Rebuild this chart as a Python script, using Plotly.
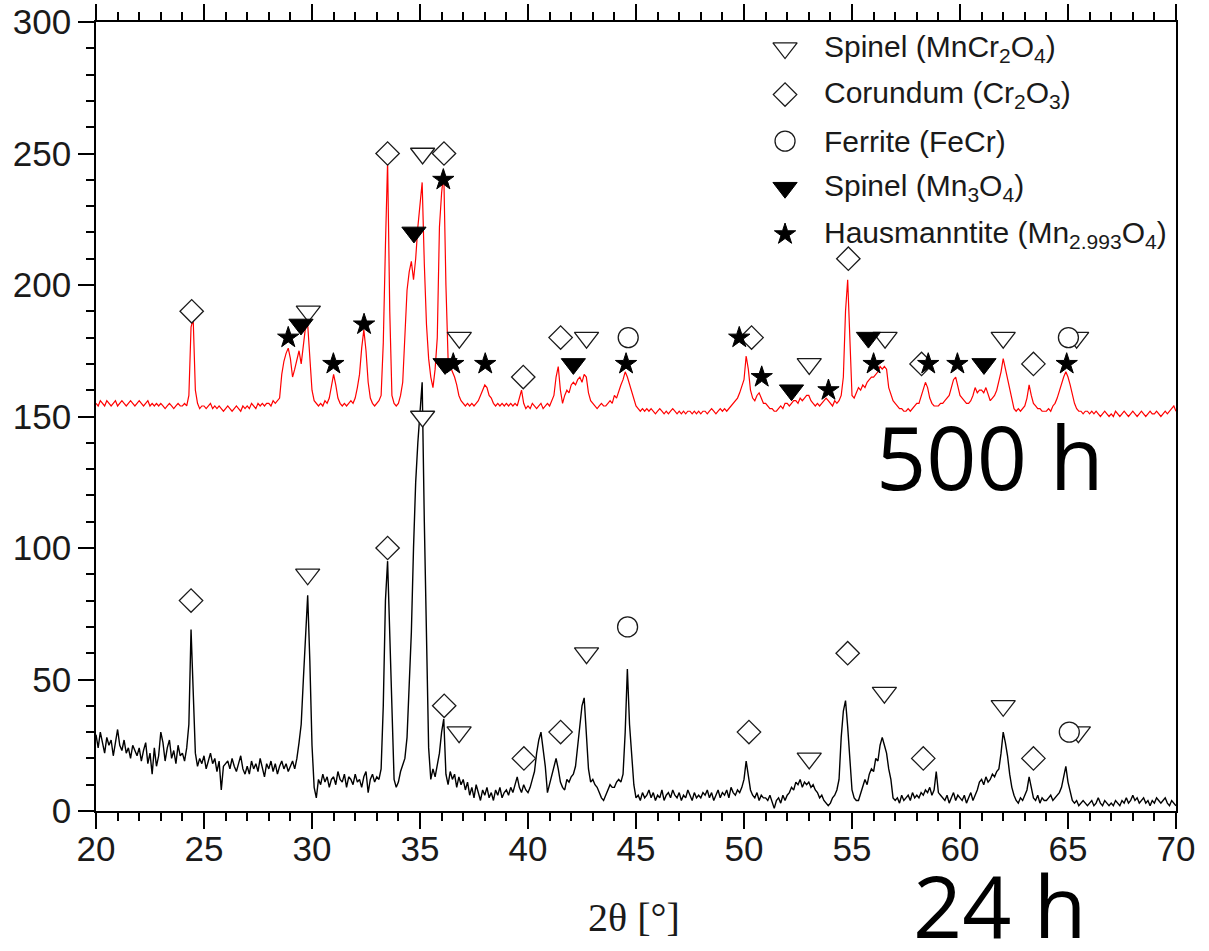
import numpy as np
import plotly.graph_objects as go

# ---- XRD scans: 2-theta from 20 to 70 deg, 0.1 deg step ----
scan_start = 20.0
scan_step = 0.1

# 24 h oxidation (counts, one row per degree)
counts_24h = [
    29, 24, 30, 26, 22, 28, 25, 27, 21, 26,
    31, 25, 23, 27, 22, 24, 20, 25, 23, 21,
    24, 19, 23, 26, 18, 22, 14, 24, 17, 21,
    30, 26, 19, 24, 27, 20, 23, 18, 25, 21,
    22, 19, 24, 33, 69, 48, 22, 17, 20, 18,
    21, 16, 19, 22, 18, 20, 15, 19, 8, 17,
    18, 19, 16, 20, 17, 15, 18, 21, 16, 14,
    17, 14, 19, 16, 18, 15, 20, 17, 13, 18,
    16, 19, 15, 18, 14, 17, 19, 16, 18, 15,
    17, 19, 16, 20, 26, 33, 50, 66, 82, 57,
    25, 9, 5, 12, 10, 14, 11, 13, 9, 12,
    13, 10, 15, 12, 11, 14, 9, 13, 12, 10,
    14, 11, 12, 9, 13, 15, 7, 12, 14, 11,
    13, 12, 16, 40, 80, 95, 68, 35, 12, 9,
    11, 15, 18, 20, 28, 48, 68, 100, 125, 140,
    152, 163, 110, 62, 24, 12, 16, 13, 18, 22,
    30, 35, 14, 10, 15, 12, 14, 9, 13, 10,
    12, 8, 11, 6, 9, 5, 10, 7, 4, 8,
    6, 9, 5, 7, 4, 8, 6, 9, 5, 7,
    8, 6, 9, 7, 10, 13, 9, 7, 10, 8,
    7, 9, 12, 15, 22, 27, 30, 24, 17, 7,
    10, 13, 17, 20, 16, 11, 9, 8, 12, 11,
    13, 14, 17, 24, 33, 40, 43, 30, 16, 11,
    12, 10, 9, 7, 5, 4, 6, 8, 10, 9,
    9, 11, 12, 11, 14, 30, 54, 33, 22, 10,
    5, 6, 4, 7, 5, 6, 8, 5, 7, 4,
    6, 5, 8, 4, 6, 7, 5, 8, 6, 5,
    7, 4, 6, 5, 8, 6, 4, 7, 5, 6,
    5, 7, 6, 8, 5, 7, 4, 6, 8, 5,
    7, 6, 8, 5, 9, 7, 6, 8, 7, 9,
    12, 19, 14, 8, 6, 5, 7, 4, 6, 5,
    5, 4, 6, 3, 1, 4, 5, 3, 6, 4,
    6, 7, 9, 8, 11, 10, 12, 9, 11, 10,
    11, 9, 10, 8, 7, 5, 6, 4, 3, 2,
    3, 5, 6, 8, 12, 28, 38, 42, 32, 18,
    8, 5, 4, 4, 7, 9, 12, 10, 14, 16,
    15, 20, 19, 25, 28, 25, 22, 16, 12, 5,
    4, 5, 3, 6, 4, 5, 6, 4, 7, 5,
    6, 5, 7, 6, 8, 7, 9, 6, 8, 15,
    7, 6, 5, 4, 6, 3, 5, 7, 4, 6,
    5, 4, 6, 3, 5, 7, 4, 6, 8, 11,
    12, 10, 13, 11, 12, 14, 13, 15, 16, 22,
    30, 26, 21, 14, 9, 6, 4, 3, 5, 4,
    6, 8, 13, 9, 5, 4, 6, 3, 5, 4,
    4, 5, 6, 4, 5, 6, 7, 9, 13, 17,
    11, 7, 4, 3, 4, 2, 3, 4, 3, 2,
    3, 4, 2, 3, 5, 3, 2, 4, 3, 2,
    3, 2, 4, 3, 2, 4, 3, 5, 3, 4,
    6, 4, 5, 3, 4, 5, 3, 4, 2, 4,
    3, 5, 4, 3, 4, 5, 3, 2, 4, 3,
    2,
]

# 500 h oxidation (counts, shifted up for display)
counts_500h = [
    155, 154, 156, 155, 154, 156, 155, 154, 155, 156,
    154, 155, 156, 155, 154, 155, 156, 155, 154, 155,
    156, 155, 154, 155, 156, 154, 155, 154, 155, 154,
    155, 154, 153, 154, 155, 154, 153, 154, 155, 154,
    154, 155, 154, 158, 184, 187, 160, 155, 153, 154,
    154, 153, 154, 155, 153, 154, 153, 154, 153, 152,
    153, 154, 153, 152, 153, 154, 153, 152, 154, 153,
    154, 153, 155, 154, 153, 155, 154, 155, 154, 155,
    155, 154, 156, 155, 156, 157, 166, 171, 174, 176,
    172, 165, 168, 172, 175, 170, 178, 184, 185, 172,
    160, 156, 155, 154, 155, 154, 156, 155, 157, 161,
    166, 162, 157, 155, 154, 155, 154, 155, 156, 155,
    157, 161, 166, 176, 183, 175, 163, 157, 155, 154,
    155, 156, 158, 178, 215, 247, 190, 158, 155, 154,
    155, 158, 163, 180, 198, 205, 209, 202, 210, 222,
    230, 239, 208, 185, 172, 165, 161, 168, 180, 222,
    235, 243, 200, 172, 169, 167, 165, 162, 158, 156,
    155, 154, 155, 154, 155, 154, 155, 156, 158, 160,
    162, 161, 158, 157, 155, 154, 155, 154, 155, 154,
    155, 154, 155, 154, 155, 154, 157, 160, 155, 153,
    154, 153, 155, 154, 153, 154, 155, 153, 154, 155,
    154, 156, 158, 165, 169, 160, 155, 158, 160, 159,
    162, 163, 162, 164, 165, 163, 166, 165, 159, 156,
    155, 154, 153, 154, 155, 154, 154, 155, 156, 155,
    158, 157, 160, 162, 164, 167, 165, 162, 160, 157,
    154, 153, 152, 153, 152, 153, 152, 153, 152, 151,
    152, 153, 152, 151, 152, 151, 152, 153, 152, 151,
    152, 151, 152, 151, 152, 152, 151, 152, 151, 152,
    151, 152, 152, 151, 152, 153, 152, 151, 152, 153,
    152, 153, 152, 153, 154, 155, 156, 157, 159, 162,
    164, 173, 168, 160, 157, 156, 158, 159, 157, 155,
    155, 154, 153, 153, 152, 152, 153, 154, 153, 155,
    155, 154, 155, 156, 156, 155, 157, 156, 157, 158,
    158, 156, 155, 154, 155, 154, 155, 156, 157, 156,
    155, 154, 156, 155, 156, 158, 165, 190, 202, 176,
    158, 157, 159, 161, 160, 162, 161, 163, 164, 165,
    165, 166, 167, 169, 168, 169, 168, 161, 158, 156,
    155, 154, 153, 153, 152, 152, 153, 152, 153, 154,
    155, 155, 158, 161, 163, 161, 157, 155, 154, 154,
    154, 155, 155, 156, 157, 158, 161, 164, 165, 162,
    158, 157, 156, 155, 155, 156, 158, 161, 159, 160,
    160, 159, 161, 158, 156, 157, 158, 160, 163, 167,
    172, 168, 164, 160, 156, 153, 152, 153, 152, 153,
    154, 157, 162, 158, 155, 154, 153, 153, 152, 152,
    152, 153, 152, 154, 155, 157, 160, 162, 165, 167,
    165, 162, 158, 155, 153, 152, 152, 151, 152, 152,
    151, 152, 151, 152, 151, 150, 151, 152, 151, 150,
    151, 150, 152, 151, 150, 151, 152, 151, 150, 151,
    152, 151, 150, 151, 152, 151, 150, 151, 152, 151,
    151, 152, 151, 150, 151, 152, 151, 152, 153, 154,
    152,
]

# ---- phase identification marks (2-theta, marker height) ----
spinel_mncr2o4_tt = [29.83, 35.12, 36.82, 42.71, 53.02, 56.53, 62.00, 65.40,
                     29.80, 35.12, 36.81, 42.71, 53.02, 56.50, 62.00, 65.48]
spinel_mncr2o4_h = [190, 250, 180, 180, 170, 180, 180, 180,
                    90, 150, 30, 60, 20, 45, 40, 30]

corundum_tt = [24.43, 33.50, 36.11, 39.78, 41.51, 50.35, 54.83, 58.22, 63.40,
               24.40, 33.50, 36.12, 39.81, 41.51, 50.23, 54.80, 58.30, 63.40]
corundum_h = [190, 250, 250, 165, 180, 180, 210, 170, 170,
              80, 100, 40, 20, 30, 30, 60, 20, 20]

ferrite_tt = [44.64, 65.02, 44.61, 65.06]
ferrite_h = [180, 180, 70, 30]

spinel_mn3o4_tt = [29.49, 34.72, 36.16, 42.10, 52.20, 55.76, 61.11]
spinel_mn3o4_h = [185, 220, 170, 170, 160, 180, 170]

hausmannite_tt = [28.90, 30.99, 32.41, 36.08, 36.54, 38.02, 44.54, 49.78,
                  50.82, 53.91, 56.00, 58.53, 59.88, 64.94]
hausmannite_h = [180, 170, 185, 240, 170, 170, 170, 180,
                 165, 160, 170, 170, 170, 170]

phase_labels = [
    "Spinel (MnCr<sub>2</sub>O<sub>4</sub>)",
    "Corundum (Cr<sub>2</sub>O<sub>3</sub>)",
    "Ferrite (FeCr)",
    "Spinel (Mn<sub>3</sub>O<sub>4</sub>)",
    "Hausmanntite (Mn<sub>2.993</sub>O<sub>4</sub>)",
]

two_theta = np.round(scan_start + scan_step * np.arange(len(counts_24h)), 2)

INK = "#1a1a1a"
open_line = dict(color=INK, width=1.3)

phase_styles = [
    dict(symbol="triangle-down", size=21, color="white", line=open_line),
    dict(symbol="diamond", size=18, color="white", line=open_line),
    dict(symbol="circle", size=20, color="white", line=open_line),
    dict(symbol="triangle-down", size=21, color="black", line=dict(color="black", width=1)),
    dict(symbol="star", size=16, color="black", line=dict(color="black", width=1)),
]
phase_points = [
    (spinel_mncr2o4_tt, spinel_mncr2o4_h),
    (corundum_tt, corundum_h),
    (ferrite_tt, ferrite_h),
    (spinel_mn3o4_tt, spinel_mn3o4_h),
    (hausmannite_tt, hausmannite_h),
]

fig = go.Figure()

fig.add_trace(go.Scatter(x=two_theta, y=counts_500h, mode="lines",
                         line=dict(color="#ff0000", width=1.2), showlegend=False))
fig.add_trace(go.Scatter(x=two_theta, y=counts_24h, mode="lines",
                         line=dict(color="black", width=1.4), showlegend=False))

for (tt, h), style in zip(phase_points, phase_styles):
    fig.add_trace(go.Scatter(x=tt, y=h, mode="markers", marker=style,
                             showlegend=False, cliponaxis=False))

# ---- key: glyphs on an overlay unit axis, labels as annotations ----
key_x = 0.638
key_text_x = 0.672
key_rows = [0.967, 0.908, 0.849, 0.790, 0.731]
for style, ky in zip(phase_styles, key_rows):
    fig.add_trace(go.Scatter(x=[key_x], y=[ky], xaxis="x2", yaxis="y2",
                             mode="markers", marker=style, showlegend=False,
                             cliponaxis=False))

annotations = []
for label, ky in zip(phase_labels, key_rows):
    annotations.append(dict(text=label, x=key_text_x, y=ky, xref="paper", yref="paper",
                            xanchor="left", yanchor="middle", showarrow=False,
                            font=dict(family="Liberation Sans, Arial", size=30, color=INK)))

annotations += [
    dict(text="500 h", x=0.828, y=0.45, xref="paper", yref="paper",
         xanchor="center", yanchor="middle", showarrow=False,
         font=dict(family="Open Sans", size=88, color="black")),
    dict(text="24 h", x=0.837, y=-0.118, xref="paper", yref="paper",
         xanchor="center", yanchor="middle", showarrow=False,
         font=dict(family="Open Sans", size=86, color="black")),
    dict(text="2θ [°]", x=0.498, y=-0.135, xref="paper", yref="paper",
         xanchor="center", yanchor="middle", showarrow=False,
         font=dict(family="Liberation Serif, Times New Roman", size=40, color=INK)),
]

axis_common = dict(
    showline=True, linecolor="black", linewidth=1.5,
    ticks="outside", ticklen=16, tickwidth=1.5, tickcolor="black",
    showgrid=False, zeroline=False, automargin=False,
    tickfont=dict(family="Liberation Sans, Arial", size=35, color=INK),
)

fig.update_layout(
    width=1209, height=951,
    margin=dict(l=96, r=33, t=22, b=140),
    paper_bgcolor="white", plot_bgcolor="white",
    showlegend=False,
    xaxis=dict(range=[20, 70], dtick=5, tick0=20, mirror="ticks",
               ticklabelstandoff=-10,
               minor=dict(dtick=1, ticks="outside", ticklen=8, tickwidth=1.5,
                          tickcolor="black", showgrid=False),
               **axis_common),
    yaxis=dict(range=[0, 300], dtick=50, tick0=0, mirror=True,
               minor=dict(dtick=10, ticks="outside", ticklen=8, tickwidth=1.5,
                          tickcolor="black", showgrid=False),
               **axis_common),
    xaxis2=dict(overlaying="x", range=[0, 1], visible=False, anchor="y2"),
    yaxis2=dict(overlaying="y", range=[0, 1], visible=False, anchor="x2"),
    annotations=annotations,
)

fig.write_html("out.html")
